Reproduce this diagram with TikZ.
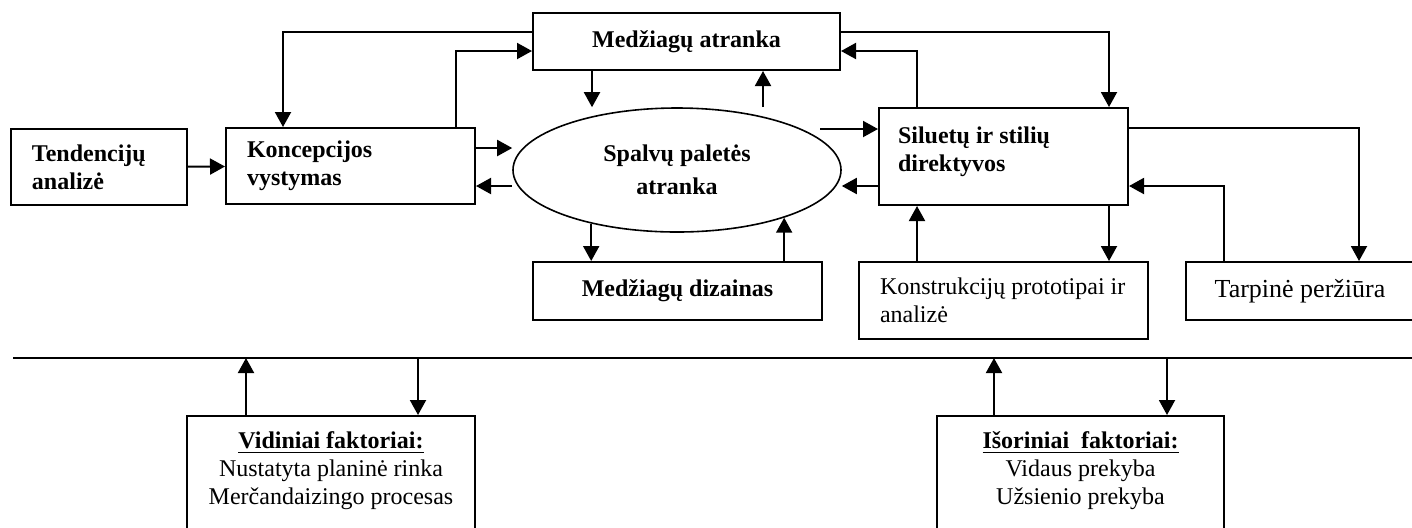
\documentclass[tikz,border=0pt]{standalone}
\usepackage{fontspec}
\setmainfont{Liberation Serif}
\usetikzlibrary{arrows.meta,shapes.geometric}

\begin{document}
\begin{tikzpicture}[x=0.5pt,y=-0.5pt,>={Triangle[length=7.5pt,width=8pt]},line width=1pt,
  box/.style={draw,inner sep=0pt,align=center,font=\fontsize{12pt}{14pt}\selectfont\bfseries},
  plain/.style={font=\fontsize{12pt}{14pt}\selectfont}]
  \clip (0,0) rectangle (1412,527);
  \node[box,minimum width=88pt,minimum height=38pt,text width=67pt,align=left] (tend) at (99,167) {Tendencijų\\analizė};
  \node[box,minimum width=124.5pt,minimum height=38pt,text width=103.5pt,align=left] (konc) at (350.5,166) {Koncepcijos\\vystymas};
  \node[box,minimum width=153.5pt,minimum height=28.5pt] (atr) at (686.5,41.5) {Medžiagų atranka};
  \node[box,ellipse,line width=0.8pt,minimum width=164pt,minimum height=62pt] (pal) at (677,170) {Spalvų paletės\\[2.5pt]atranka};
  \node[box,minimum width=124.5pt,minimum height=48.5pt,
    label={[box,draw=none,align=left,anchor=north west,xshift=9.5pt,yshift=-9.5pt]north west:{Siluetų ir stilių\\direktyvos}}] (sil) at (1003.5,156.5) {};
  \node[box,minimum width=144.5pt,minimum height=29pt] (diz) at (677.5,291) {Medžiagų dizainas};
  \node[box,minimum width=144.5pt,minimum height=38.5pt,
    label={[box,plain,draw=none,align=left,anchor=west,xshift=10.5pt]west:{Konstrukcijų prototipai ir\\analizė}}] (kon) at (1003.5,300.5) {};
  \node[box,minimum width=114pt,minimum height=29pt,font=\fontsize{13pt}{15pt}\selectfont] (tarp) at (1300,291) {Tarpinė peržiūra};
  \node[box,minimum width=144pt,minimum height=62pt,
    label={[box,plain,draw=none,anchor=north,yshift=-8pt]north:{\textbf{\underline{Vidiniai faktoriai:}}\\Nustatyta planinė rinka\\Merčandaizingo procesas}}] (vid) at (331,478) {};
  \node[box,minimum width=143.5pt,minimum height=62pt,
    label={[box,plain,draw=none,anchor=north,yshift=-8pt]north:{\textbf{\underline{Išoriniai~ faktoriai:}}\\Vidaus prekyba\\Užsienio prekyba}}] (isor) at (1080.5,478) {};
  \coordinate (silin) at (820,129);
  \coordinate (ll) at (13,358);
  \coordinate (lr) at (1412,358);

  \draw[->] (tend) -- (konc);
  \draw[->] (atr.west |- 0,32) -| (konc.north -| 283,0);
  \draw[->] (konc.north -| 456,0) |- (atr.west |- 0,51);
  \draw[->] (atr.east |- 0,32) -| (sil.north -| 1109,0);
  \draw[->] (sil.north -| 917,0) |- (atr.east |- 0,51);
  \draw[->] (atr.south -| 592,0) -- (pal.north -| 592,0);
  \draw[->] (pal.north -| 763,0) -- (atr.south -| 763,0);
  \draw[->] (konc.east |- 0,148) -- (pal.west |- 0,148);
  \draw[->] (pal.west |- 0,186) -- (konc.east |- 0,186);
  \draw[->] (silin) -- (sil.west |- silin);
  \draw[->] (sil.west |- 0,186) -- (pal.east |- 0,186);
  \draw[->] (pal.212) -- (diz.north -| pal.212);
  \draw[->] (diz.north -| pal.336) -- (pal.336);
  \draw[->] (kon.north -| 917,0) -- (sil.south -| 917,0);
  \draw[->] (sil.south -| 1109,0) -- (kon.north -| 1109,0);
  \draw[->] (sil.east |- 0,128) -| (tarp.north -| 1359,0);
  \draw[->] (tarp.north -| 1224,0) |- (sil.east |- 0,186);
  \draw (ll) -- (lr);
  \draw[->] (vid.north -| 246,0) -- (ll -| 246,0);
  \draw[->] (ll -| 418,0) -- (vid.north -| 418,0);
  \draw[->] (isor.north -| 994,0) -- (ll -| 994,0);
  \draw[->] (ll -| 1167,0) -- (isor.north -| 1167,0);
\end{tikzpicture}
\end{document}
